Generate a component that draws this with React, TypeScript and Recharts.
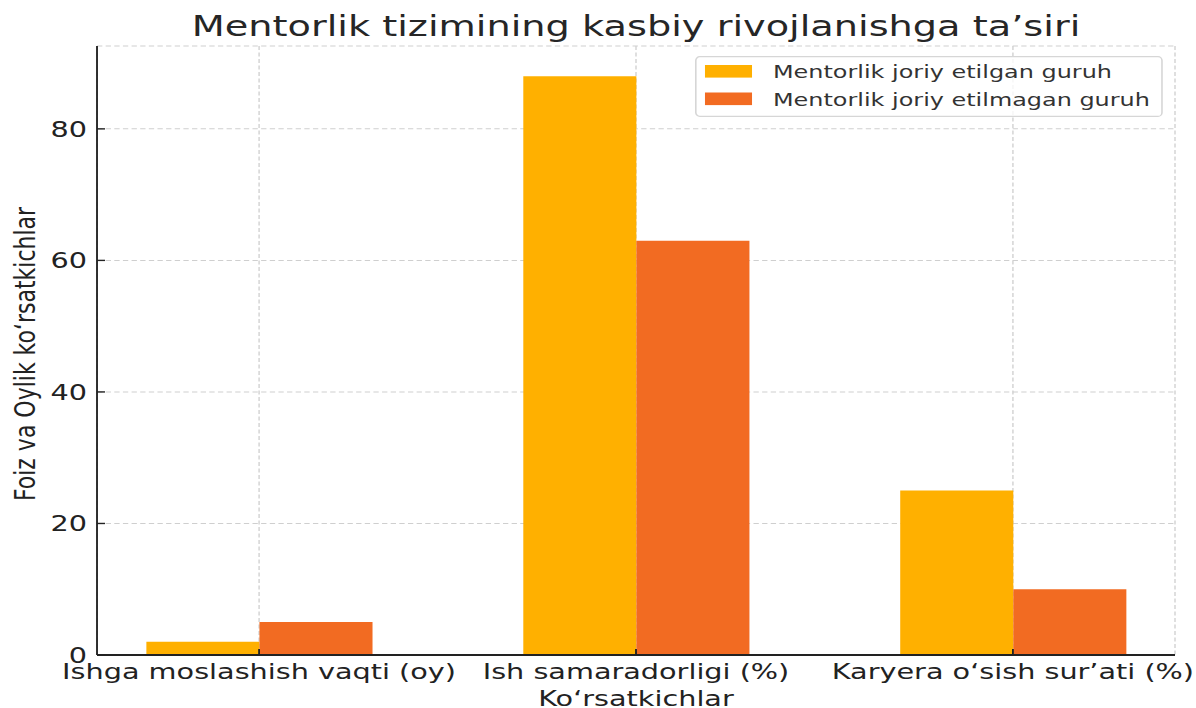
import React from 'react';
import { BarChart, Bar, XAxis, YAxis, CartesianGrid, Legend } from 'recharts';

const CATEGORIES = ['Ishga moslashish vaqti (oy)', 'Ish samaradorligi (%)', 'Karyera o\u2018sish sur\u2019ati (%)'];
const SERIES_NAMES = ['Mentorlik joriy etilgan guruh', 'Mentorlik joriy etilmagan guruh'];
const MENTOR = [2, 88, 25];
const NO_MENTOR = [5, 63, 10];
const Y_TICKS = [0, 20, 40, 60, 80];
const TITLE = 'Mentorlik tizimining kasbiy rivojlanishga ta\u2019siri';
const X_LABEL = 'Ko\u2018rsatkichlar';
const Y_LABEL = 'Foiz va Oylik ko\u2018rsatkichlar';

const COLORS = ['#FFB000', '#F26B22'];
const FONT = '"DejaVu Sans", sans-serif';

// inner drawing frame, horizontally stretched to the page width
const OUTER_W = 1196;
const INNER_W = 900;
const H = 708;
const SCALE_X = OUTER_W / INNER_W;
const PLOT_LEFT = 73;
const PLOT_RIGHT = 884.2;
const PLOT_TOP = 46;
const PLOT_BOTTOM = 655;
const X_DOMAIN: [number, number] = [-0.43, 2.43];
const Y_DOMAIN: [number, number] = [0, 92.6];
const BAR_UNITS = 0.3;
const PLOT_W = PLOT_RIGHT - PLOT_LEFT;
const BAR_PX = (BAR_UNITS * PLOT_W) / (X_DOMAIN[1] - X_DOMAIN[0]);

const data = CATEGORIES.map((c, i) => ({ x: i, name: c, a: MENTOR[i], b: NO_MENTOR[i] }));

const LegendBox = (props: any) => {
  const payload = props.payload || [];
  const w = 352;
  const h = 61;
  return (
    <svg width={w} height={h} style={{ display: 'block', overflow: 'visible' }}>
      <rect x={0.6} y={0.6} width={w - 1.2} height={h - 1.2} rx={3} ry={4} fill="rgba(255,255,255,0.8)" stroke="#d6d6d6" strokeWidth={1.2} />
      {payload.map((p: any, i: number) => {
        const cy = 15.3 + i * 27.5;
        return (
          <g key={i}>
            <rect x={7.5} y={cy - 6.3} width={35.4} height={12.6} fill={p.color} />
            <text x={58.7} y={cy + 7} fontFamily={FONT} fontSize={18} fill="#333">{p.value}</text>
          </g>
        );
      })}
    </svg>
  );
};

const YLabel = () => (
  <text x={26.3} y={354} transform="rotate(-90 26.3 354)" textAnchor="middle" fontFamily={FONT} fontSize={22} fill="#222">
    {Y_LABEL}
  </text>
);

export default function App() {
  return (
    <div style={{ position: 'absolute', left: 0, top: 0, width: OUTER_W, height: H, overflow: 'hidden', background: '#fff' }}>
      <div style={{ position: 'relative', width: INNER_W, height: H, transform: `scaleX(${SCALE_X})`, transformOrigin: '0 0' }}>
        <BarChart
          width={INNER_W}
          height={H}
          data={data}
          margin={{ top: PLOT_TOP, right: INNER_W - PLOT_RIGHT, left: 0, bottom: 0 }}
          barGap={0}
        >
          <CartesianGrid stroke="#cfcfcf" strokeDasharray="4 2.5" strokeWidth={1} />
          <XAxis
            type="number"
            dataKey="x"
            domain={X_DOMAIN}
            ticks={[0, 1, 2]}
            interval={0}
            allowDataOverflow
            height={H - PLOT_BOTTOM}
            tickFormatter={(v: number) => CATEGORIES[v]}
            tick={{ fontFamily: FONT, fontSize: 21.6, fill: '#222' }}
            tickSize={-6}
            tickMargin={14.7}
            tickLine={{ stroke: '#222', strokeWidth: 1.4 }}
            axisLine={{ stroke: '#222', strokeWidth: 1.8 }}
            label={{ value: X_LABEL, position: 'insideBottom', offset: 0, dy: -2, fontFamily: FONT, fontSize: 21.6, fill: '#222' }}
          />
          <YAxis
            type="number"
            domain={Y_DOMAIN}
            ticks={Y_TICKS}
            interval={0}
            allowDataOverflow
            width={PLOT_LEFT}
            tick={{ fontFamily: FONT, fontSize: 21.6, fill: '#222' }}
            tickSize={-6}
            tickMargin={13.5}
            tickLine={{ stroke: '#222', strokeWidth: 1.4 }}
            axisLine={{ stroke: '#222', strokeWidth: 1.4 }}
            label={<YLabel />}
          />
          <Legend
            layout="vertical"
            align="center"
            verticalAlign="middle"
            content={<LegendBox />}
            wrapperStyle={{ position: 'absolute', left: 523, top: 56, width: 352, height: 61 }}
          />
          <Bar dataKey="a" name={SERIES_NAMES[0]} fill={COLORS[0]} barSize={BAR_PX} isAnimationActive={false} />
          <Bar dataKey="b" name={SERIES_NAMES[1]} fill={COLORS[1]} barSize={BAR_PX} isAnimationActive={false} />
        </BarChart>
        <svg width={INNER_W} height={H} style={{ position: 'absolute', left: 0, top: 0, pointerEvents: 'none' }}>
          <text x={(PLOT_LEFT + PLOT_RIGHT) / 2} y={36} textAnchor="middle" fontFamily={FONT} fontSize={28.8} fill="#262626">
            {TITLE}
          </text>
        </svg>
      </div>
    </div>
  );
}
